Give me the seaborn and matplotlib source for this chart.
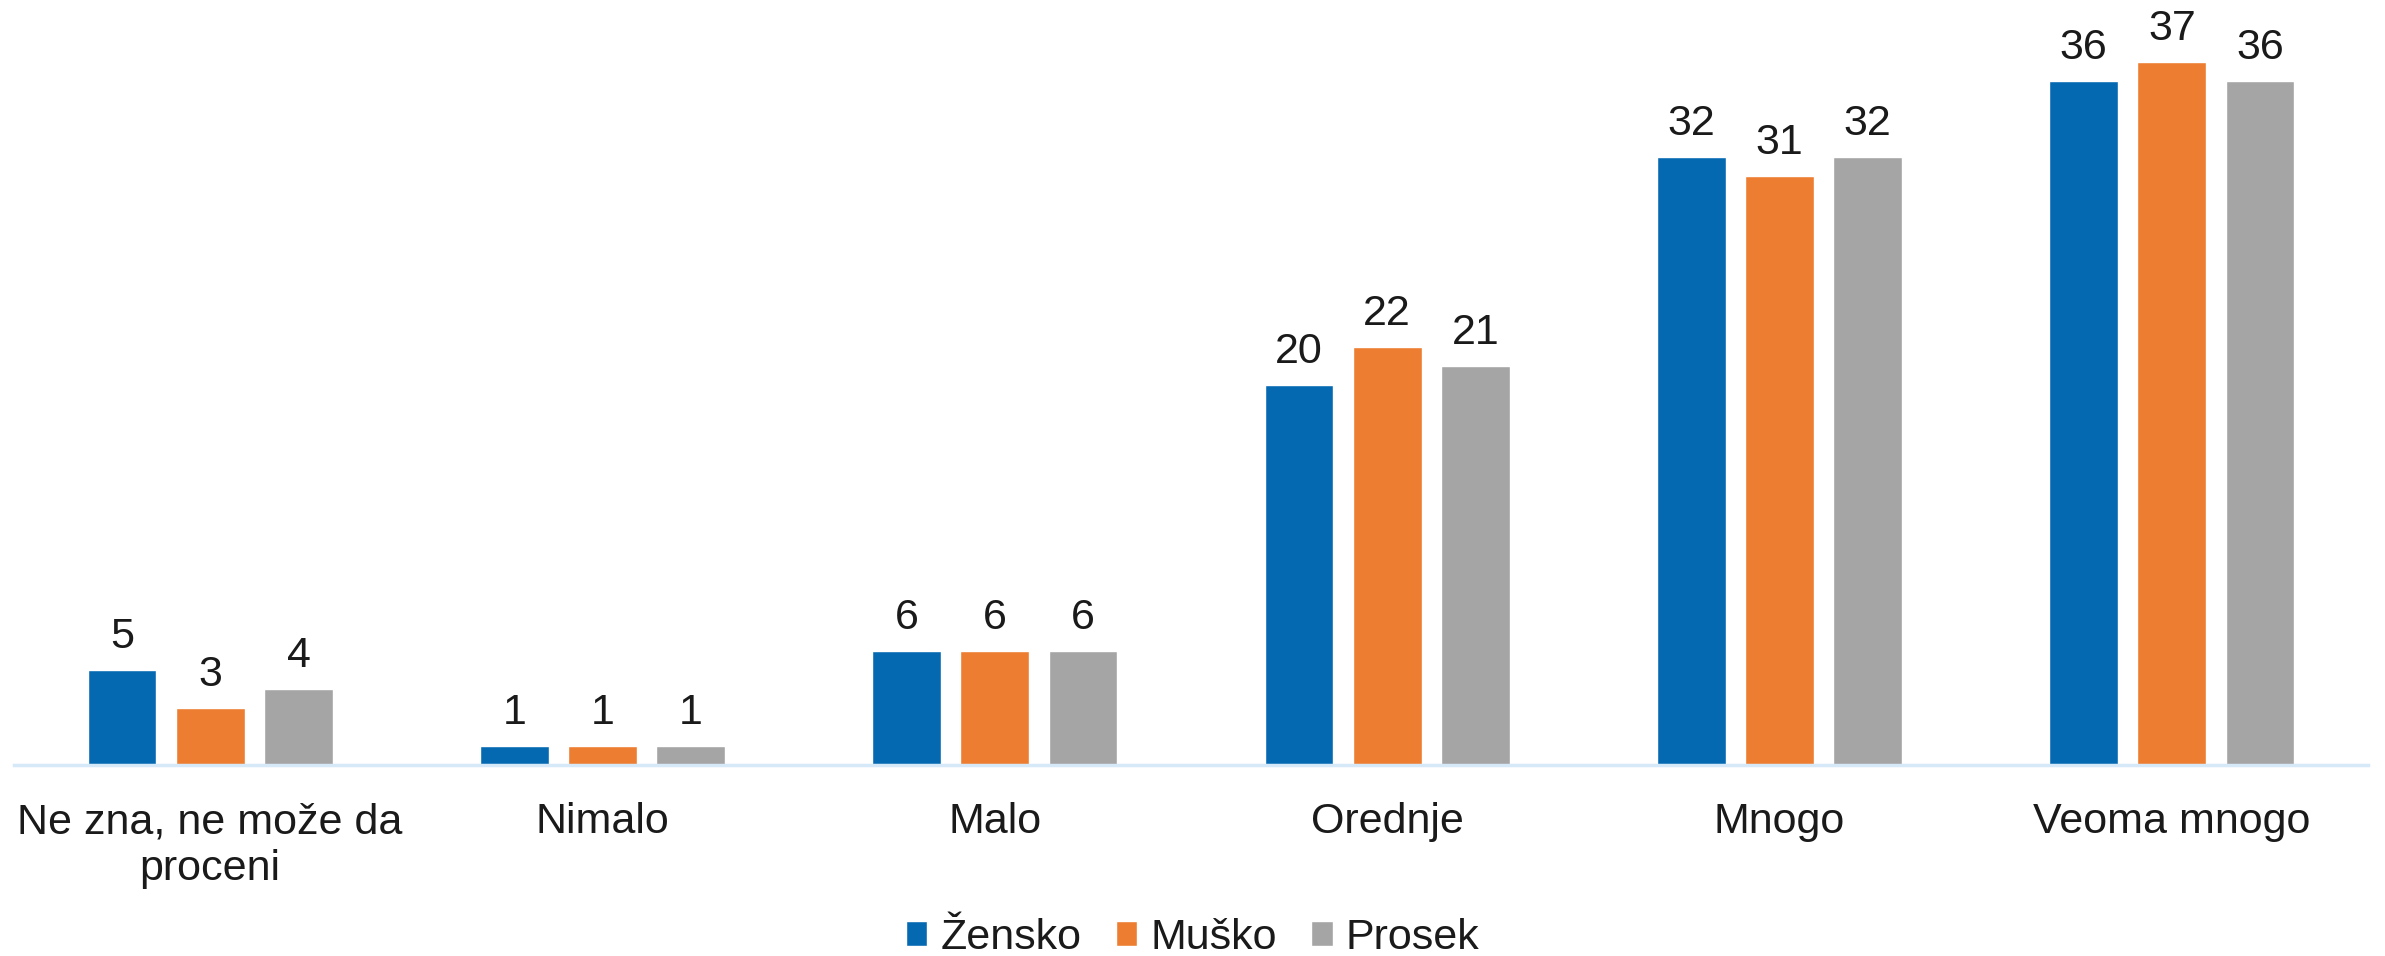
import matplotlib
matplotlib.use("Agg")
import matplotlib.pyplot as plt
import seaborn as sns
import pandas as pd

categories = ["Ne zna, ne može da\nproceni", "Nimalo", "Malo", "Orednje", "Mnogo", "Veoma mnogo"]
series = ["Žensko", "Muško", "Prosek"]
zensko = [5, 1, 6, 20, 32, 36]
musko = [3, 1, 6, 22, 31, 37]
prosek = [4, 1, 6, 21, 32, 36]
colors = ["#0569b2", "#ed7d31", "#a5a5a5"]

rows = []
for name, vals in zip(series, [zensko, musko, prosek]):
    for c, v in zip(categories, vals):
        rows.append({"cat": c, "val": v, "series": name})
df = pd.DataFrame(rows)

sns.set_theme(style="white")
plt.rcParams["font.family"] = ["Liberation Sans", "DejaVu Sans"]

fig = plt.figure(figsize=(23.85, 9.56), dpi=100)
ax = fig.add_axes([14 / 2385, 0.1998, (2368 - 14) / 2385, 0.8002])

sns.barplot(data=df, x="cat", y="val", hue="series", order=categories,
            hue_order=series, palette=colors, saturation=1,
            width=0.675, gap=0.222, ax=ax, legend=True)

ax.set_ylim(0, 40.26)
ax.set_xlim(-0.5, len(categories) - 0.5)
ax.set_xlabel("")
ax.set_ylabel("")
ax.set_yticks([])
for s in ["top", "right", "left"]:
    ax.spines[s].set_visible(False)
ax.spines["bottom"].set_color("#d6e9f8")
ax.spines["bottom"].set_linewidth(2.5)
ax.tick_params(axis="x", length=0, pad=27, labelsize=31, labelcolor="#1a1a1a")
for t in ax.get_xticklabels():
    t.set_linespacing(1.22)

for cont in ax.containers:
    ax.bar_label(cont, fmt="%d", padding=9, fontsize=31, color="#1a1a1a")

handles, labels = ax.get_legend_handles_labels()
ax.get_legend().remove()
fig.legend(handles, labels, loc="center", bbox_to_anchor=(0.5, 1 - 938 / 956),
           ncol=3, frameon=False, fontsize=31, handlelength=0.5, handleheight=0.5,
           handletextpad=0.3, columnspacing=0.8, labelcolor="#1a1a1a")

fig.savefig("out.png", dpi=100)
